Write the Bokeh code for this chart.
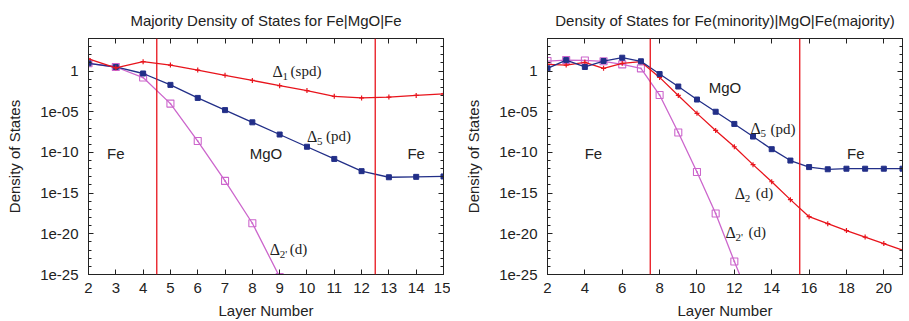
import numpy as np
from bokeh.plotting import figure
from bokeh.layouts import row
from bokeh.models import (Range1d, FixedTicker, LinearAxis, LogAxis, Span,
                          CustomJSTickFormatter)
from bokeh.core.properties import value
from bokeh.embed import file_html
from bokeh.resources import INLINE

# ---------------- data (log10 of density of states) ----------------
# Left panel: majority DOS for Fe|MgO|Fe
layers_left = [2, 3, 4, 5, 6, 7, 8, 9, 10, 11, 12, 13, 14, 15]
delta1_left_log = [1.5, 0.4, 1.15, 0.74, 0.12, -0.53, -1.15, -1.8, -2.4, -3.1, -3.3, -3.2, -3.0, -2.8]
delta5_left_log = [0.95, 0.5, -0.3, -1.7, -3.3, -4.8, -6.3, -7.8, -9.3, -10.8, -12.3, -13.05, -13.0, -12.95]
layers_left_d2p = [2, 3, 4, 5, 6, 7, 8, 9]
delta2p_left_log = [0.95, 0.5, -0.8, -4.0, -8.6, -13.5, -18.7, -25.3]
interfaces_left = [4.5, 12.5]

# Right panel: Fe(minority)|MgO|Fe(majority)
layers_right = [2, 3, 4, 5, 6, 7, 8, 9, 10, 11, 12, 13, 14, 15, 16, 17, 18, 19, 20, 21]
delta5_right_log = [0.33, 1.35, 0.5, 1.23, 1.64, 1.2, -0.37, -1.9, -3.5, -5.0, -6.5, -8.05,
                    -9.6, -11.0, -11.8, -12.07, -12.0, -12.0, -12.0, -12.0]
delta2_right_log = [0.82, 0.74, 1.07, 0.33, 0.95, 1.15, -0.78, -3.0, -5.2, -7.3, -9.3, -11.5,
                    -13.6, -15.8, -17.9, -18.75, -19.6, -20.4, -21.2, -22.0]
layers_right_d2p = [2, 3, 4, 5, 6, 7, 8, 9, 10, 11, 12, 13]
delta2p_right_log = [1.23, 1.35, 1.3, 1.2, 0.82, 0.33, -2.95, -7.55, -12.4, -17.5, -23.4, -29.0]
interfaces_right = [7.5, 15.5]

y_tick_exps = [-25, -20, -15, -10, -5, 0]
y_tick_labels = ["1e-25", "1e-20", "1e-15", "1e-10", "1e-05", "1"]
x_ticks_left = [2, 3, 4, 5, 6, 7, 8, 9, 10, 11, 12, 13, 14, 15]
x_ticks_right = [2, 4, 6, 8, 10, 12, 14, 16, 18, 20]

RED = "#e8141c"
BLUE = "#222f88"
MAG = "#cc66cc"
SANS = "Liberation Sans"
SERIF = "Liberation Serif"


def pw(logs):
    return [10.0 ** v for v in logs]


def make_fig(title, xr, xticks, width, left_border):
    p = figure(width=width, height=321, output_backend="svg", toolbar_location=None,
               y_axis_type="log", x_range=Range1d(*xr), y_range=Range1d(1e-25, 1e4),
               min_border_left=left_border, min_border_right=7,
               min_border_top=38, min_border_bottom=47)
    p.title.text = title
    p.title.text_font = SANS
    p.title.text_font_size = "15px"
    p.title.text_font_style = "normal"
    p.title.align = "center"
    p.title.text_color = "#222222"
    p.title.standoff = 19
    p.xgrid.visible = False
    p.ygrid.visible = False
    p.outline_line_color = "#222222"
    p.background_fill_color = "white"
    p.border_fill_color = "white"

    yt = FixedTicker(ticks=[10.0 ** e for e in y_tick_exps],
                     minor_ticks=[10.0 ** e for e in range(-25, 5)])
    fmt = CustomJSTickFormatter(args=dict(exps=y_tick_exps, labels=y_tick_labels), code="""
        const e = Math.round(Math.log10(tick));
        const i = exps.indexOf(e);
        return i >= 0 ? labels[i] : '';
    """)
    xt = FixedTicker(ticks=xticks, minor_ticks=[])

    ax = p.yaxis[0]
    ax.ticker = yt
    ax.formatter = fmt
    ax.axis_label = "Density of States"
    xa = p.xaxis[0]
    xa.ticker = xt
    xa.axis_label = "Layer Number"
    for a in (ax, xa):
        a.axis_label_text_font = SANS
        a.axis_label_text_font_size = "15px"
        a.axis_label_text_font_style = "normal"
        a.axis_label_text_color = "#222222"
        a.major_label_text_font = SANS
        a.major_label_text_font_size = "15px"
        a.major_label_text_color = "#222222"
        a.axis_line_color = "#222222"
        a.major_tick_line_color = "#222222"
        a.minor_tick_line_color = "#222222"
        a.major_tick_in = 5
        a.major_tick_out = 0
        a.minor_tick_in = 3
        a.minor_tick_out = 0
    ax.major_label_standoff = 10
    ax.axis_label_standoff = 14
    xa.major_label_standoff = 8
    xa.axis_label_standoff = 6

    blank = CustomJSTickFormatter(code="return '';")
    ra = LogAxis(ticker=yt, formatter=blank)
    ta = LinearAxis(ticker=xt, formatter=blank)
    for a in (ra, ta):
        a.major_label_text_font_size = "0px"
        a.major_label_standoff = 0
        a.axis_line_color = "#222222"
        a.major_tick_line_color = "#222222"
        a.minor_tick_line_color = "#222222"
        a.major_tick_in = 5
        a.major_tick_out = 0
        a.minor_tick_in = 3
        a.minor_tick_out = 0
    p.add_layout(ra, "right")
    p.add_layout(ta, "above")
    return p


def series(p, xs, logs, color, marker):
    ys = pw(logs)
    p.line(xs, ys, line_color=color, line_width=1.3)
    if marker == "cross":
        p.scatter(xs, ys, marker="cross", size=5, line_color=color, line_width=1.2)
    elif marker == "square":
        p.scatter(xs, ys, marker="square", size=5, line_color=color, fill_color=color)
    else:
        p.scatter(xs, ys, marker="square_dot", size=7, line_color=color, fill_color=None,
                  line_width=1.1)


def region_text(p, x, ylog, txt):
    p.text(x=[x], y=[10.0 ** ylog], text=[txt], text_font=value(SANS), text_font_size="15px",
           text_align="center", text_baseline="middle", text_color="#222222")


def delta_label(p, x, ylog, sub, rest, rest_off):
    y = 10.0 ** ylog
    p.text(x=[x], y=[y], text=["Δ"], text_font=value(SERIF), text_font_size="16px",
           text_align="left", text_baseline="middle", text_color="#222222")
    p.text(x=[x], y=[y], text=[sub], text_font=value(SERIF), text_font_size="11px",
           text_align="left", text_baseline="middle", text_color="#222222",
           x_offset=10, y_offset=5)
    p.text(x=[x], y=[y], text=[rest], text_font=value(SERIF), text_font_size="15px",
           text_align="left", text_baseline="middle", text_color="#222222",
           x_offset=rest_off, y_offset=0)


# ---------------- left panel ----------------
p1 = make_fig("Majority Density of States for Fe|MgO|Fe", (2, 15), x_ticks_left, 450, 88)
for loc in interfaces_left:
    p1.add_layout(Span(location=loc, dimension="height", line_color=RED, line_width=1.3))
series(p1, layers_left_d2p, delta2p_left_log, MAG, "sqdot")
series(p1, layers_left, delta5_left_log, BLUE, "square")
series(p1, layers_left, delta1_left_log, RED, "cross")
region_text(p1, 3.0, -10.1, "Fe")
region_text(p1, 8.5, -10.1, "MgO")
region_text(p1, 14.0, -10.1, "Fe")
delta_label(p1, 8.74, 0.0, "1", "(spd)", 18)
delta_label(p1, 10.0, -8.0, "5", "(pd)", 19)
delta_label(p1, 8.64, -21.9, "2'", "(d)", 20)

# ---------------- right panel ----------------
p2 = make_fig("Density of States for Fe(minority)|MgO|Fe(majority)", (2, 21), x_ticks_right, 459, 97)
for loc in interfaces_right:
    p2.add_layout(Span(location=loc, dimension="height", line_color=RED, line_width=1.3))
series(p2, layers_right_d2p, delta2p_right_log, MAG, "sqdot")
series(p2, layers_right, delta2_right_log, RED, "cross")
series(p2, layers_right, delta5_right_log, BLUE, "square")
region_text(p2, 4.46, -10.1, "Fe")
region_text(p2, 11.5, -2.0, "MgO")
region_text(p2, 18.5, -10.1, "Fe")
delta_label(p2, 12.87, -7.06, "5", "(pd)", 20)
delta_label(p2, 12.02, -15.0, "2", "(d)", 21)
delta_label(p2, 11.53, -19.8, "2'", "(d)", 23)

layout = row(p1, p2)
open("out.html", "w").write(file_html(layout, INLINE))
